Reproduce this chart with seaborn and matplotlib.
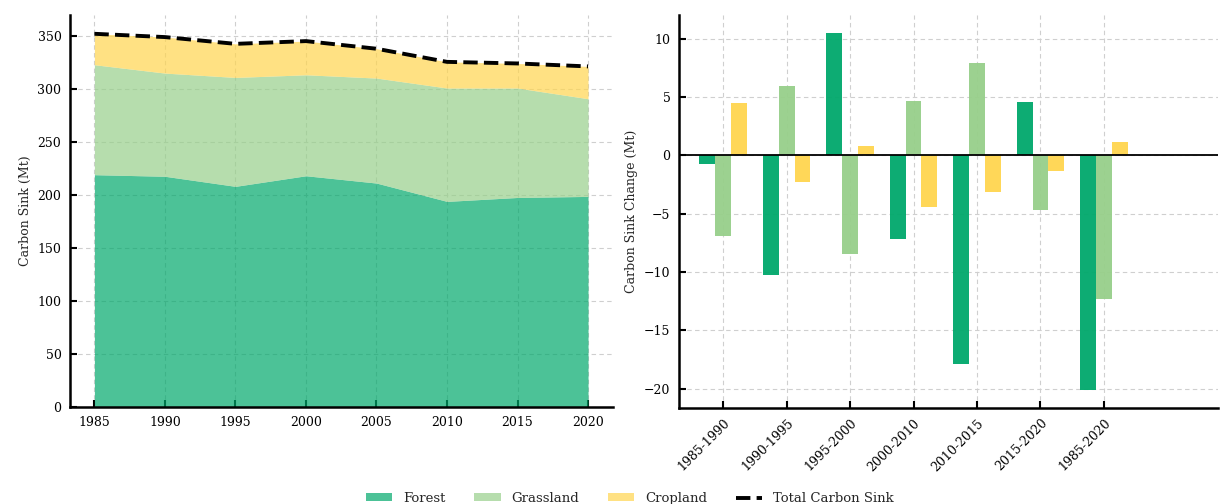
import numpy as np
import pandas as pd
import matplotlib
matplotlib.use("Agg")
import matplotlib.pyplot as plt
import seaborn as sns

# Carbon sink by land type (Mt)
years = [1985, 1990, 1995, 2000, 2005, 2010, 2015, 2020]
forest = [219.5, 218.0, 208.5, 218.5, 211.6, 194.3, 198.0, 199.0]
grassland = [103.8, 97.4, 102.8, 95.3, 99.1, 107.0, 103.3, 92.2]
cropland = [29.2, 34.0, 31.7, 31.8, 27.7, 24.7, 23.2, 30.5]

# Change in carbon sink per period (Mt)
periods = ["1985-1990", "1990-1995", "1995-2000", "2000-2010",
           "2010-2015", "2015-2020", "1985-2020"]
forest_change = [-0.74, -10.26, 10.49, -7.17, -17.86, 4.57, -20.16]
grassland_change = [-6.89, 5.97, -8.47, 4.69, 7.94, -4.71, -12.34]
cropland_change = [4.46, -2.31, 0.77, -4.46, -3.17, -1.37, 1.14]

sns.set_theme(style="ticks")
plt.rcParams["font.family"] = ["DejaVu Serif"]
plt.rcParams["axes.unicode_minus"] = True

c_forest = "#00A86B"
c_grass = "#97CF8A"
c_crop = "#FFD54F"

fig = plt.figure(figsize=(12.23, 5.04), dpi=100)
ax1 = fig.add_axes([0.057, 0.192, 0.444, 0.778])
ax2 = fig.add_axes([0.555, 0.190, 0.441, 0.780])

grid_kw = dict(color="#cfcfcf", linestyle=(0, (4, 3)), linewidth=0.8)

# Left: stacked areas with total line
total = np.array(forest) + np.array(grassland) + np.array(cropland)
ax1.stackplot(years, forest, grassland, cropland,
              colors=[c_forest, c_grass, c_crop], alpha=0.7, linewidth=0,
              labels=["Forest", "Grassland", "Cropland"], zorder=2)
sns.lineplot(x=years, y=total, ax=ax1, color="black", linestyle="--",
             linewidth=2.8, label="Total Carbon Sink", zorder=3)
ax1.set_xticks(years)
ax1.set_ylabel("Carbon Sink (Mt)", fontsize=9)
ax1.set_xlabel("")
ax1.grid(True, **grid_kw)
ax1.set_axisbelow(True)
ax1.legend_.remove()

# Right: grouped bars of change
df = pd.DataFrame({
    "period": periods * 3,
    "type": ["Forest"] * 7 + ["Grassland"] * 7 + ["Cropland"] * 7,
    "change": forest_change + grassland_change + cropland_change,
})
x = np.arange(len(periods))
w = 0.25
for i, (name, col) in enumerate([("Forest", c_forest), ("Grassland", c_grass),
                                 ("Cropland", c_crop)]):
    vals = df.loc[df["type"] == name, "change"].to_numpy()
    ax2.bar(x + (i - 1) * w, vals, width=w, color=col, alpha=0.95,
            linewidth=0, zorder=2)
ax2.axhline(0, color="black", linewidth=1.3, zorder=3)
ax2.set_xticks(x)
ax2.set_xticklabels(periods, rotation=45, ha="right", rotation_mode="anchor")
ax2.set_xlim(-0.7, 7.8)
ax2.set_ylabel("Carbon Sink Change (Mt)", fontsize=9)
ax2.grid(True, **grid_kw)
ax2.set_axisbelow(True)

for ax in (ax1, ax2):
    sns.despine(ax=ax)
    for s in ("left", "bottom"):
        ax.spines[s].set_linewidth(1.8)
        ax.spines[s].set_color("black")
    ax.tick_params(direction="in", length=5, width=1.5, labelsize=9,
                   colors="black", pad=6)

handles, labels = ax1.get_legend_handles_labels()
fig.legend(handles, labels, loc="lower center", ncol=4, frameon=False,
           fontsize=9.5, bbox_to_anchor=(0.515, -0.025), columnspacing=2.2,
           handlelength=2.0, handleheight=0.5)

fig.savefig("out.png", dpi=100)
